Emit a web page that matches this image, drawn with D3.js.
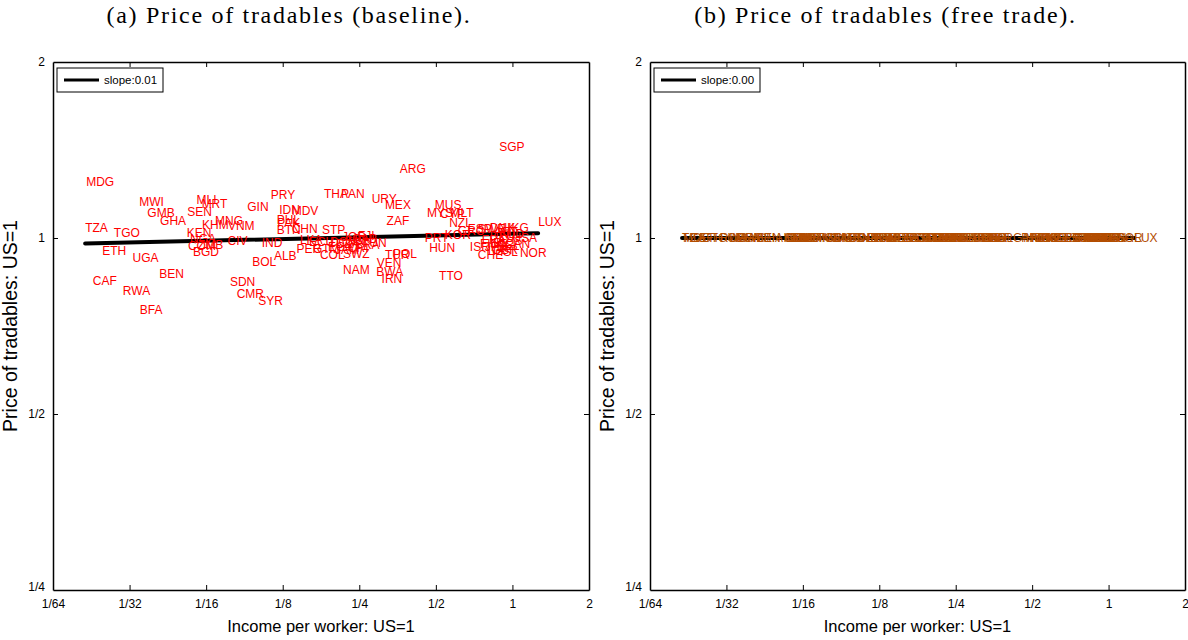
<!DOCTYPE html>
<html><head><meta charset="utf-8">
<script src="https://cdn.jsdelivr.net/npm/d3@7"></script>
<style>
body{margin:0;background:#fff;}
svg{display:block;}
</style></head>
<body>
<svg id="chart" width="1188" height="640"></svg>
<script>
const countries = ["MDG","TZA","TGO","ETH","UGA","CAF","RWA","BFA","BEN","MWI","GMB","GHA","SEN","MLI","MRT","KHM","MNG","VNM","KEN","NGA","COM","ZMB","BGD","CIV","SDN","CMR","SYR","BOL","IND","GIN","PRY","IDN","MDV","PHL","PAK","BTN","CHN","ALB","PER","LKA","ECU","STP","COL","GTM","SWZ","JOR","NAM","THA","PAN","URY","MEX","ZAF","ARG","TUR","POL","VEN","BWA","IRN","DOM","EGY","DZA","TUN","GAB","BRA","CRI","JAM","FJI","SLV","MUS","MYS","MLT","CYP","NZL","KOR","PRT","HUN","TTO","GRC","ESP","ISR","SWE","DNK","HKG","CHE","ITA","AUS","BEL","FRA","DEU","FIN","JPN","GBR","NLD","AUT","CAN","IRL","ISL","USA","NOR","LUX","SGP"];
const income = [0.0211,0.0209,0.0271,0.0244,0.0321,0.0224,0.0294,0.0343,0.0409,0.0341,0.0367,0.0412,0.0527,0.0573,0.0600,0.0602,0.0677,0.0761,0.0524,0.0540,0.0530,0.0580,0.0555,0.0759,0.0775,0.0824,0.1001,0.0949,0.1033,0.0907,0.1121,0.1211,0.1356,0.1183,0.1189,0.1183,0.1356,0.1154,0.1417,0.1461,0.1585,0.1783,0.1751,0.1643,0.2155,0.2136,0.2159,0.1815,0.2117,0.2796,0.3152,0.3200,0.361,0.3152,0.339,0.2925,0.2917,0.306,0.1916,0.1882,0.2024,0.256,0.2338,0.2403,0.2255,0.2005,0.2469,0.2195,0.4955,0.461,0.571,0.519,0.564,0.5425,0.4525,0.4705,0.515,0.610,0.668,0.680,0.731,0.815,0.917,0.731,0.80,0.876,0.868,0.758,0.815,0.745,0.779,0.830,0.893,0.845,0.934,0.815,0.893,1,1.070,1.262,0.887];
const priceBaseline = [1.248,1.041,1.021,0.951,0.927,0.845,0.813,0.753,0.869,1.155,1.105,1.070,1.109,1.161,1.143,1.052,1.069,1.048,1.021,0.996,0.969,0.973,0.946,0.989,0.842,0.802,0.780,0.911,0.982,1.131,1.188,1.117,1.114,1.076,1.062,1.032,1.036,0.933,0.958,0.992,0.984,1.032,0.935,0.958,0.939,1.005,0.884,1.189,1.189,1.169,1.139,1.069,1.312,0.935,0.939,0.907,0.876,0.853,0.984,0.965,0.977,0.981,0.996,0.973,0.961,0.954,1.008,0.988,1.139,1.103,1.103,1.099,1.062,1.012,1.001,0.964,0.861,1.028,1.036,0.965,1.036,1.040,1.040,0.935,0.950,0.988,0.969,0.992,1.008,0.977,0.965,0.954,1.016,1.024,0.977,0.981,0.946,1,0.944,1.066,1.433];
const priceFreeTrade = [1,1,1,1,1,1,1,1,1,1,1,1,1,1,1,1,1,1,1,1,1,1,1,1,1,1,1,1,1,1,1,1,1,1,1,1,1,1,1,1,1,1,1,1,1,1,1,1,1,1,1,1,1,1,1,1,1,1,1,1,1,1,1,1,1,1,1,1,1,1,1,1,1,1,1,1,1,1,1,1,1,1,1,1,1,1,1,1,1,1,1,1,1,1,1,1,1,1,1,1,1];
const fitSlope = [0.01, 0.00];
const fitIntercept = [1.017, 1.0];
const slopeLabels = ["slope:0.01", "slope:0.00"];
const panelTitles = ["(a) Price of tradables (baseline).", "(b) Price of tradables (free trade)."];
const xTickValues = [1/64, 1/32, 1/16, 1/8, 1/4, 1/2, 1, 2];
const xTickLabels = ["1/64","1/32","1/16","1/8","1/4","1/2","1","2"];
const yTickValues = [1/4, 1/2, 1, 2];
const yTickLabels = ["1/4","1/2","1","2"];
const xAxisTitle = "Income per worker: US=1";
const yAxisTitle = "Price of tradables: US=1";

const svg = d3.select("#chart");
const sans = "'Liberation Sans', Arial, Helvetica, sans-serif";
const plotTop = 62, plotBottom = 590;

function panel(i, left, right, prices, color) {
  const g = svg.append("g");
  const x = d3.scaleLog().base(2).domain([1/64, 2]).range([left, right]);
  const y = d3.scaleLog().base(2).domain([1/4, 2]).range([plotBottom, plotTop]);

  svg.append("text").attr("x", (left + right) / 2 - 32).attr("y", 23)
    .attr("text-anchor", "middle").attr("font-family", "'Liberation Serif', 'DejaVu Serif', serif")
    .attr("font-size", 24).attr("letter-spacing", 1.7).attr("fill", "#000").text(panelTitles[i]);

  const fmtX = (d) => xTickLabels[xTickValues.indexOf(d)];
  const fmtY = (d) => yTickLabels[yTickValues.indexOf(d)];
  const ax = [
    g.append("g").attr("transform", `translate(0,${plotBottom})`).call(d3.axisBottom(x).tickValues(xTickValues).tickFormat(fmtX).tickSizeInner(-5).tickSizeOuter(0).tickPadding(9)),
    g.append("g").attr("transform", `translate(0,${plotTop})`).call(d3.axisTop(x).tickValues(xTickValues).tickFormat("").tickSizeInner(-5).tickSizeOuter(0)),
    g.append("g").attr("transform", `translate(${left},0)`).call(d3.axisLeft(y).tickValues(yTickValues).tickFormat(fmtY).tickSizeInner(-5).tickSizeOuter(0).tickPadding(8)),
    g.append("g").attr("transform", `translate(${right},0)`).call(d3.axisRight(y).tickValues(yTickValues).tickFormat("").tickSizeInner(-5).tickSizeOuter(0))
  ];
  ax.forEach(a => {
    a.selectAll("path.domain").attr("stroke", "#000").attr("stroke-width", 1.5);
    a.selectAll(".tick line").attr("stroke", "#000").attr("stroke-width", 1);
    a.selectAll(".tick text").attr("font-family", sans).attr("font-size", 12).attr("fill", "#000");
  });
  ax[0].selectAll(".tick").filter(d => d === 1/64 || d === 2).select("line").remove();
  ax[1].selectAll(".tick").filter(d => d === 1/64 || d === 2).select("line").remove();
  ax[2].selectAll(".tick").filter(d => d === 1/4 || d === 2).select("line").remove();
  ax[3].selectAll(".tick").filter(d => d === 1/4 || d === 2).select("line").remove();
  ax[2].selectAll(".tick").filter(d => d === 1/4).select("text").attr("dy", "0.0em");

  svg.append("text").attr("x", (left + right) / 2).attr("y", 632).attr("text-anchor", "middle")
    .attr("font-family", sans).attr("font-size", 16.5).attr("fill", "#000").text(xAxisTitle);
  svg.append("text").attr("transform", `translate(${left - 36},${(plotTop + plotBottom) / 2}) rotate(-90)`)
    .attr("text-anchor", "middle").attr("font-family", sans).attr("font-size", 19.5).attr("fill", "#000").text(yAxisTitle);

  const xmin = d3.min(income), xmax = d3.max(income);
  const fit = [xmin, xmax].map(v => [v, fitIntercept[i] * Math.pow(v, fitSlope[i])]);
  g.append("path").attr("d", d3.line().x(d => x(d[0])).y(d => y(d[1]))(fit))
    .attr("stroke", "#000").attr("stroke-width", 4).attr("stroke-linecap", "round").attr("fill", "none");

  g.append("g").selectAll("text").data(countries).join("text")
    .attr("x", (d, k) => x(income[k])).attr("y", (d, k) => y(prices[k]))
    .attr("dy", "0.36em").attr("font-family", sans).attr("font-size", 12).attr("fill", color)
    .text(d => d);

  const lg = g.append("g").attr("transform", `translate(${left + 4},68)`);
  lg.append("rect").attr("width", 106).attr("height", 24).attr("fill", "#fff").attr("stroke", "#000").attr("stroke-width", 1);
  lg.append("line").attr("x1", 7).attr("x2", 42).attr("y1", 12).attr("y2", 12).attr("stroke", "#000").attr("stroke-width", 3);
  lg.append("text").attr("x", 47).attr("y", 12).attr("dy", "0.36em").attr("font-family", sans).attr("font-size", 11.5).attr("fill", "#000").text(slopeLabels[i]);
}

panel(0, 53, 589, priceBaseline, "#ff0000");
panel(1, 650, 1185, priceFreeTrade, "#b34d00");
</script>
</body></html>
